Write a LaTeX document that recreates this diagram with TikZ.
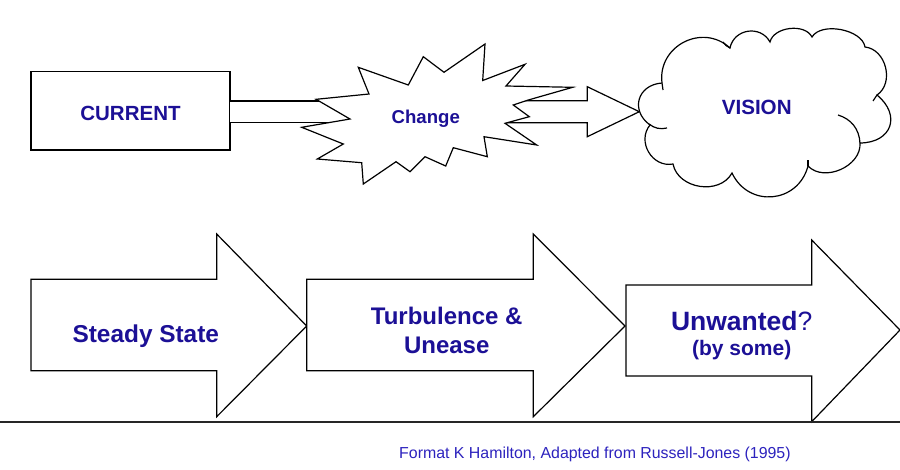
\documentclass[tikz,border=0pt]{standalone}
\usepackage{fontspec}
\setmainfont{Liberation Sans}
\definecolor{txtblue}{RGB}{28,16,150}
\definecolor{footblue}{RGB}{45,35,190}
\newcommand\myfs[1]{\fontsize{#1}{#1}\selectfont}
\begin{document}
\begin{tikzpicture}[x=1pt,y=1pt,line join=miter,
  outl/.style={draw=black,fill=white,line width=1.2pt},
  tail/.style={draw=black,line width=1.2pt},
  lbl/.style={inner sep=0pt,text=txtblue,anchor=base}]
\useasboundingbox (0,0) rectangle (900,-469);
\fill[white] (0,0) rectangle (900,-469);

% ---- top row ----
\draw[outl] (31,-71.7) rectangle (230,-150);
\node[lbl,font=\bfseries\myfs{20.5}] (current) at (130.5,-120) {CURRENT};

% block arrow CURRENT -> Change (body, head hidden behind burst)
\draw[outl] (230,-101) -- (380,-101) -- (380,-122.3) -- (230,-122.3);

% block arrow Change -> VISION
\draw[outl] (490,-100.7) -- (587.3,-100.7) -- (587.3,-86.7) -- (639.3,-111.7)
  -- (587.3,-136.7) -- (587.3,-122.7) -- (490,-122.7) -- cycle;

% starburst
\draw[outl] (316,-99.3) -- (369,-94) -- (358.3,-67.3) -- (408.3,-85) -- (423.3,-56.7)
  -- (444,-72.3) -- (485,-44) -- (482.7,-80.5) -- (525,-64.3) -- (506,-86)
  -- (572.7,-87.3) -- (528.3,-100) -- (513.3,-105) -- (529.3,-116.7) -- (505,-123.3)
  -- (536.7,-145) -- (484,-136.7) -- (487.3,-156.7) -- (453.3,-147.7) -- (445.7,-166)
  -- (425,-156.7) -- (410,-171.7) -- (396,-161.7) -- (363.3,-184) -- (361.7,-162.7)
  -- (317.3,-159) -- (343.3,-144) -- (301.7,-127.3) -- (350,-119) -- cycle;
\node[lbl,font=\bfseries\myfs{18.6}] (change) at (425.8,-123.5) {Change};

% cloud
\draw[outl] (662,-83)
  to[bend left=70,looseness=1.25] (730,-48)
  to[bend left=70,looseness=1.25] (770,-42)
  to[bend left=70,looseness=0.95] (812,-37)
  to[bend left=70,looseness=0.85] (865,-47)
  to[bend left=70,looseness=1.1] (877,-95)
  to[bend left=70,looseness=1.6] (860,-143)
  to[bend left=70,looseness=1.05] (808,-166)
  to[bend left=70,looseness=1.3] (732,-173)
  to[bend left=70,looseness=1.1] (673,-164)
  to[bend left=70,looseness=1.2] (650,-125)
  to[bend left=70,looseness=1.45] (662,-83);
\draw[tail] (838,-115) to[bend left=35] (860,-143);
\draw[tail] (649,-124) to[bend right=25] (667,-128);
\draw[tail] (662,-83) to[bend left=10] (663,-90);
\draw[tail] (808,-166) -- (808,-160);
\draw[tail] (877,-95) -- (873,-101);
\draw[tail] (730,-48) to[bend left=15] (723,-42);
\node[lbl,font=\bfseries\myfs{20.6}] (vision) at (756.7,-114.3) {VISION};

% ---- bottom row ----
\draw[outl] (31,-279.3) -- (216.7,-279.3) -- (216.7,-234) -- (306.7,-326)
  -- (216.7,-416.7) -- (216.7,-370.7) -- (31,-370.7) -- cycle;
\draw[outl] (306.7,-279.3) -- (533.3,-279.3) -- (533.3,-234) -- (625,-326)
  -- (533.3,-416.7) -- (533.3,-370.7) -- (306.7,-370.7) -- cycle;
\draw[outl] (626,-285) -- (811.7,-285) -- (811.7,-240) -- (900,-330)
  -- (811.7,-421.7) -- (811.7,-376) -- (626,-376) -- cycle;

\node[lbl,font=\bfseries\myfs{24.4}] (steady) at (145.8,-342.7) {Steady State};
\node[lbl,font=\bfseries\myfs{24}] (turb) at (446.7,-324) {Turbulence \&};
\node[lbl,font=\bfseries\myfs{24}] (unease) at (446.7,-353.3) {Unease};
\node[lbl,font=\myfs{26.5}] (unw) at (741.7,-330) {\textbf{Unwanted}?};
\node[lbl,font=\bfseries\myfs{21}] (bysome) at (741.7,-355.5) {(by some)};

% ground line
\draw[line width=1.4pt,black!85] (0,-422) -- (900,-422);

% footer
\node[inner sep=0pt,anchor=base west,text=footblue,font=\myfs{15.9}] (foot) at (399,-458)
  {Format K Hamilton, Adapted from Russell-Jones (1995)};
\end{tikzpicture}
\end{document}
